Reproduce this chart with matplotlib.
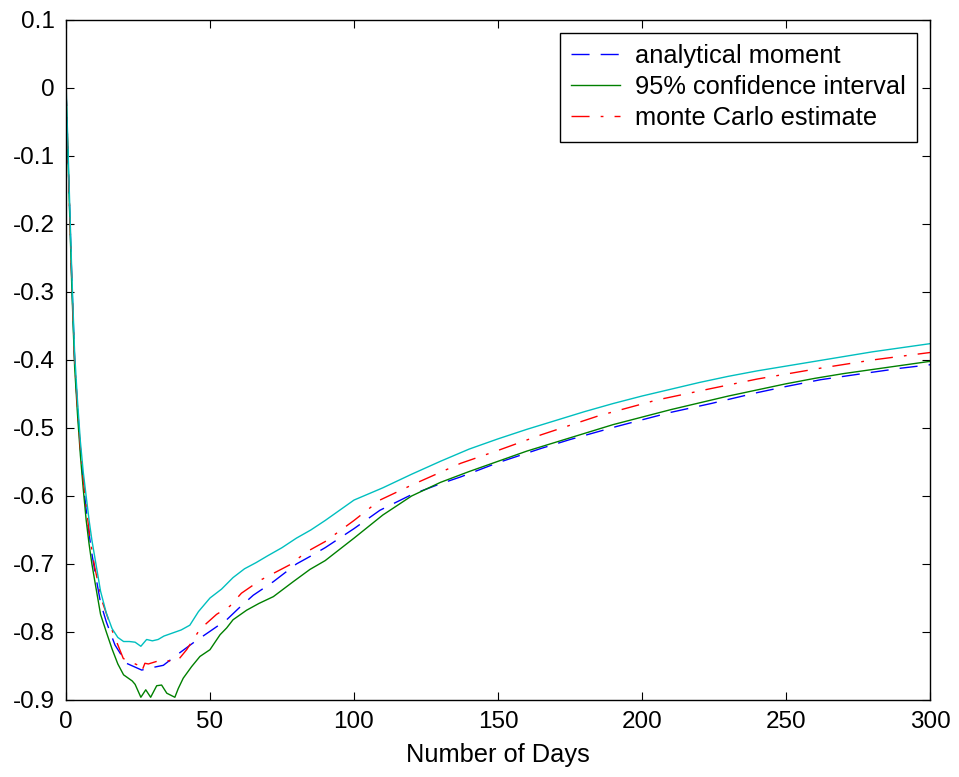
#!/usr/bin/env python3
"""Recreate the moment / Monte Carlo comparison plot."""
import matplotlib
matplotlib.use("Agg")
import matplotlib.pyplot as plt

# Upper 95% bound (cyan, not in legend)
days_upper = [0, 1, 2, 3, 4, 5, 6, 7, 8, 9, 10, 12, 14, 16, 18, 20, 22, 24,
              26, 28, 30, 32, 34, 36, 38, 40, 43, 46, 50, 54, 58, 62, 66,
              70, 75, 80, 85, 90, 100, 110, 120, 130, 140, 150, 160, 170,
              180, 190, 200, 210, 220, 230, 240, 250, 260, 270, 280, 290, 300]
upper = [0.01, -0.13, -0.27, -0.39, -0.46, -0.52, -0.565, -0.60, -0.635,
         -0.665, -0.69, -0.74, -0.772, -0.795, -0.808, -0.814, -0.814,
         -0.815, -0.821, -0.811, -0.813, -0.811, -0.806, -0.803, -0.800,
         -0.797, -0.790, -0.770, -0.750, -0.737, -0.720, -0.707, -0.698,
         -0.688, -0.676, -0.662, -0.650, -0.636, -0.606, -0.588, -0.568,
         -0.549, -0.531, -0.516, -0.502, -0.489, -0.476, -0.464, -0.453,
         -0.443, -0.433, -0.424, -0.416, -0.409, -0.402, -0.395, -0.388,
         -0.382, -0.376]

# Lower 95% bound (green)
days_lower = [0, 1, 2, 3, 4, 5, 6, 7, 8, 9, 10, 12, 14, 16, 18, 20, 22, 23,
              24, 26, 27.7, 29.4, 31.5, 33.2, 35, 37.8, 39, 40.7, 43.6, 46.5,
              50, 53.5, 55.8, 58, 62.7, 67, 72, 78.9, 84.7, 90, 100, 110,
              120, 130, 140, 150, 160, 170, 180, 190, 200, 210, 220, 230,
              240, 250, 260, 270, 280, 290, 300]
lower = [0.0, -0.145, -0.29, -0.41, -0.48, -0.54, -0.59, -0.635, -0.67,
         -0.70, -0.725, -0.774, -0.80, -0.825, -0.847, -0.863, -0.869,
         -0.872, -0.877, -0.896, -0.885, -0.896, -0.879, -0.878, -0.890,
         -0.896, -0.883, -0.868, -0.851, -0.836, -0.826, -0.804, -0.794,
         -0.782, -0.768, -0.758, -0.748, -0.726, -0.708, -0.695, -0.662,
         -0.628, -0.600, -0.580, -0.564, -0.549, -0.534, -0.521, -0.508,
         -0.495, -0.484, -0.473, -0.463, -0.453, -0.444, -0.435, -0.427,
         -0.420, -0.414, -0.408, -0.402]

# Analytical moment (blue)
days_analytic = [0, 1, 2, 3, 4, 5, 6, 7, 8, 9, 10, 12, 14, 17, 21, 26.3,
                 29.2, 33.8, 38.4, 44.8, 50, 55.8, 60, 65, 72, 80, 84.7, 90,
                 100, 109, 120, 130, 137, 150, 165, 175, 191, 200, 210, 224,
                 240, 250, 262, 275, 290, 300]
analytic = [0.0, -0.14, -0.28, -0.40, -0.47, -0.53, -0.58, -0.62, -0.655,
            -0.685, -0.71, -0.757, -0.785, -0.819, -0.846, -0.856, -0.853,
            -0.849, -0.834, -0.814, -0.799, -0.782, -0.765, -0.746, -0.726,
            -0.700, -0.689, -0.676, -0.648, -0.621, -0.598, -0.582, -0.572,
            -0.551, -0.530, -0.517, -0.498, -0.488, -0.477, -0.464, -0.448,
            -0.439, -0.429, -0.421, -0.412, -0.407]

# Monte Carlo estimate (red)
days_mc = [0, 1, 2, 3, 4, 5, 6, 7, 8, 9, 10, 12.4, 16.4, 19.9, 25.1, 26.3,
           27.4, 28.6, 33.2, 38.4, 41.9, 46.5, 52.3, 56.9, 60.9, 67.4, 77.8,
           83.6, 90, 100, 109, 120, 137, 150, 165, 185, 205, 224, 240, 262,
           280, 300]
mc = [0.0, -0.14, -0.28, -0.40, -0.47, -0.53, -0.575, -0.615, -0.65, -0.68,
      -0.705, -0.753, -0.802, -0.839, -0.849, -0.858, -0.846, -0.847,
      -0.841, -0.844, -0.826, -0.796, -0.774, -0.762, -0.743, -0.724,
      -0.701, -0.682, -0.667, -0.636, -0.606, -0.584, -0.552, -0.533,
      -0.510, -0.482, -0.459, -0.442, -0.428, -0.412, -0.400, -0.389]

x_ticks = [0, 50, 100, 150, 200, 250, 300]
y_ticks = [0.1, 0, -0.1, -0.2, -0.3, -0.4, -0.5, -0.6, -0.7, -0.8, -0.9]
y_tick_labels = ["0.1", "0", "-0.1", "-0.2", "-0.3", "-0.4", "-0.5",
                 "-0.6", "-0.7", "-0.8", "-0.9"]

plt.rcParams["font.family"] = ["Liberation Sans", "DejaVu Sans"]

fig = plt.figure(figsize=(9.59, 7.77), dpi=100)
ax = fig.add_axes([0.0688, 0.0991, 0.9010, 0.8752])

# Set plot
ax.plot(days_analytic, analytic, color=(0, 0, 1), lw=1.0,
        dashes=(13, 8), label="analytical moment")
ax.plot(days_lower, lower, color=(0, 0.5, 0), lw=1.0,
        label="95% confidence interval")
ax.plot(days_mc, mc, color=(1, 0, 0), lw=1.0,
        dashes=(13, 8, 2, 8), label="monte Carlo estimate")
ax.plot(days_upper, upper, color=(0, 0.75, 0.75), lw=1.0)

# Set axis limit
ax.set_xlim(0, 300)
ax.set_ylim(-0.9, 0.1)
ax.set_xticks(x_ticks)
ax.set_yticks(y_ticks)
ax.set_yticklabels(y_tick_labels)
ax.tick_params(direction="in", length=6, width=0.8, top=True, right=True,
               labelsize=17.5, pad=8)
for spine in ax.spines.values():
    spine.set_linewidth(1.0)

# Set labels name
ax.set_xlabel("Number of Days", fontsize=18.3, labelpad=7)

leg = ax.legend(loc="upper right", fontsize=18.3, frameon=True,
                fancybox=False, edgecolor="black", framealpha=1,
                handlelength=1.9, borderpad=0.45, labelspacing=0.28,
                handletextpad=0.6, borderaxespad=0.5)
leg.get_frame().set_linewidth(1.0)

fig.savefig("out.png", dpi=100)
